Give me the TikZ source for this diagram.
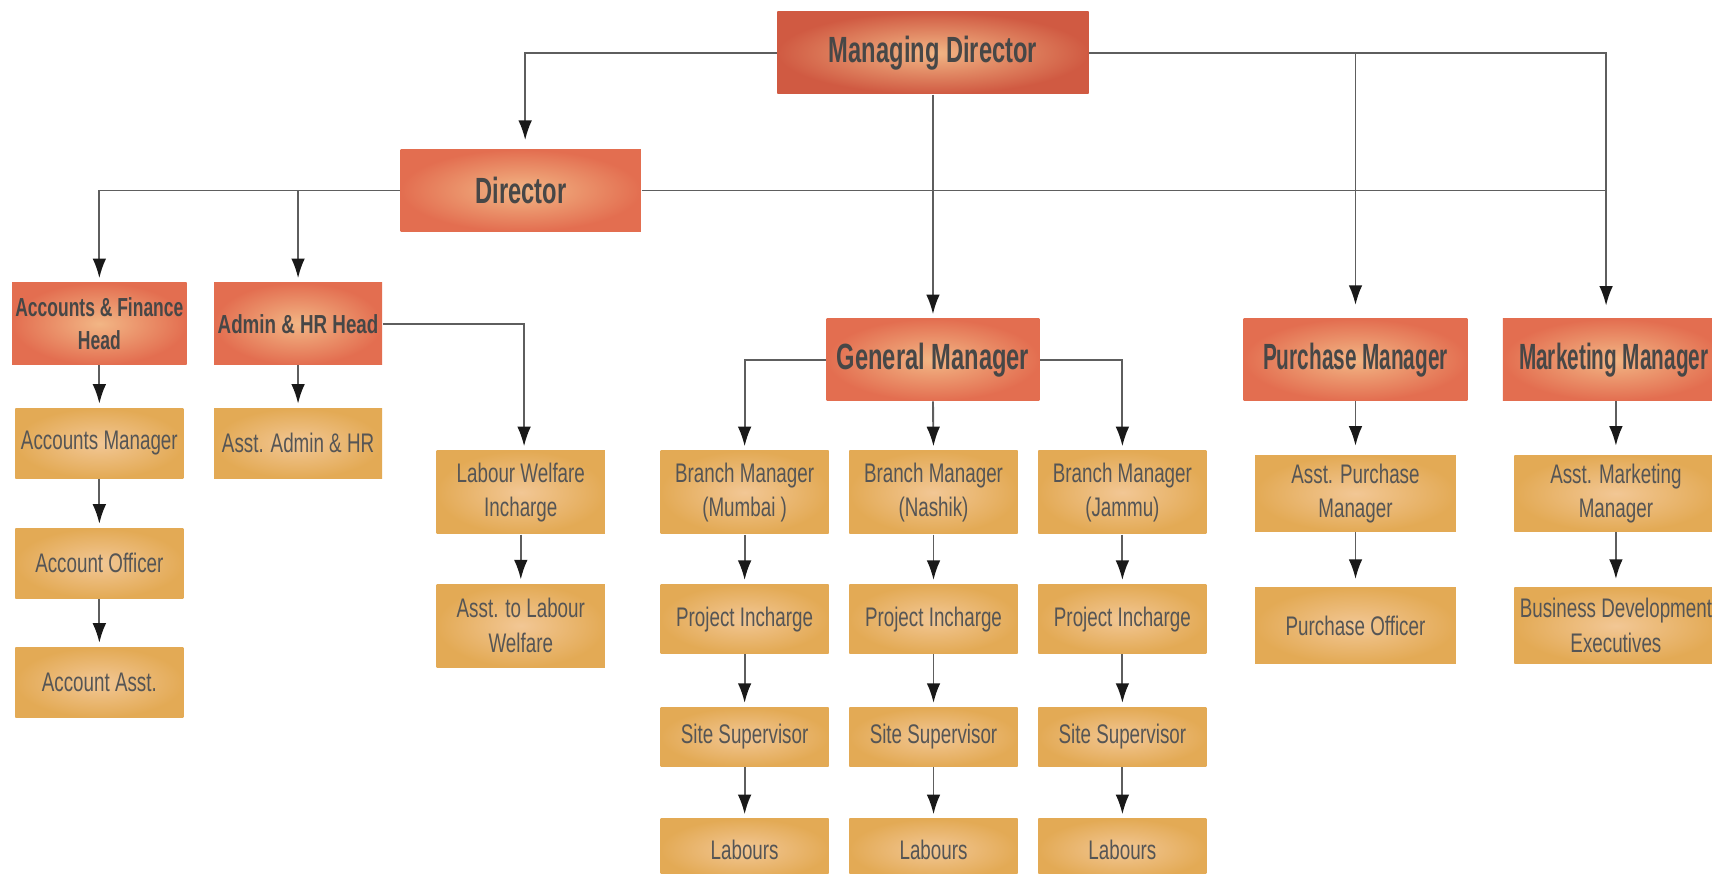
\documentclass[tikz,border=0pt]{standalone}
\usepackage{fontspec}
\usetikzlibrary{arrows.meta}
\newfontfamily\fnreg[FakeStretch=0.70]{Liberation Sans}
\newfontfamily\fnbig[FakeStretch=0.65]{Liberation Sans}
\newfontfamily\fnnar[FakeStretch=0.57]{Liberation Sans}
\newfontfamily\fnsml[FakeStretch=0.72]{Liberation Sans}
\newfontfamily\fnafh[FakeStretch=0.67]{Liberation Sans}
\definecolor{redin}{HTML}{F2B685}
\definecolor{redout}{HTML}{E36E50}
\definecolor{mdout}{HTML}{D05A42}
\definecolor{tanin}{HTML}{F2C795}
\definecolor{tanout}{HTML}{E3AA55}
\definecolor{txtb}{HTML}{474747}
\definecolor{txtr}{HTML}{555555}
\definecolor{linec}{HTML}{5E5E5E}
\tikzset{
  redbox/.style={inner sep=0pt, minimum height=7.5mm, inner color=redin, outer color=redout,
    text=txtb, align=center, font=\fnbig\bfseries\fontsize{9.5}{11}\selectfont},
  narred/.style={redbox, font=\fnnar\bfseries\fontsize{9.5}{11}\selectfont},
  smallred/.style={redbox, font=\fnsml\bfseries\fontsize{6.8}{8.7}\selectfont},
  afhred/.style={redbox, font=\fnafh\bfseries\fontsize{6.8}{8.7}\selectfont},
  tanbox/.style={inner sep=0pt, inner color=tanin, outer color=tanout,
    text=txtr, align=center, font=\fnreg\fontsize{7}{9}\selectfont},
  conn/.style={draw=linec, line width=0.5pt},
  arr/.style={conn, -{Latex[length=1.8mm,width=1.25mm,color=black!90]}, shorten >=0.35mm},
}
\begin{document}
\begin{tikzpicture}[x=0.1mm,y=-0.1mm]
\useasboundingbox (0,0) rectangle (1568,800);
\clip (0,0) rectangle (1568,800);
\fill[white] (0,0) rectangle (1568,800);

% top level
\node[redbox, outer color=mdout, minimum width=28.5mm] (MD) at (854.5,48.5) {Managing Director};
\node[redbox, minimum width=22mm] (DIR) at (477,174.5) {Director};
\node[afhred, minimum width=16mm] (AFH) at (91,296.5) {Accounts \& Finance\\Head};
\node[smallred, minimum width=15.4mm] (AHR) at (273,296.5) {Admin \& HR Head};
\node[redbox, minimum width=19.5mm] (GM) at (854.5,329.5) {General Manager};
\node[narred, minimum width=20.5mm] (PM) at (1241.5,329.5) {Purchase Manager};
\node[narred, minimum width=20.3mm] (MM) at (1478,329.5) {Marketing Manager};

% accounts column
\node[tanbox, minimum width=15.4mm, minimum height=6.4mm] (AM) at (91,406) {Accounts Manager};
\node[tanbox, minimum width=15.4mm, minimum height=6.4mm] (AO) at (91,516) {Account Officer};
\node[tanbox, minimum width=15.4mm, minimum height=6.4mm] (AA) at (91,625) {Account Asst.};
% admin column
\node[tanbox, minimum width=15.4mm, minimum height=6.4mm] (AAHR) at (273,406) {Asst. Admin \& HR};
\node[tanbox, minimum width=15.4mm, minimum height=7.6mm] (LWI) at (477,451) {Labour Welfare\\Incharge};
\node[tanbox, minimum width=15.4mm, minimum height=7.6mm] (ALW) at (477,573) {Asst. to Labour\\Welfare};

% branches
\node[tanbox, minimum width=15.4mm, minimum height=7.6mm] (BM1) at (682,451) {Branch Manager\\(Mumbai )};
\node[tanbox, minimum width=15.4mm, minimum height=7.6mm] (BM2) at (855,451) {Branch Manager\\(Nashik)};
\node[tanbox, minimum width=15.4mm, minimum height=7.6mm] (BM3) at (1028,451) {Branch Manager\\(Jammu)};
\node[tanbox, minimum width=15.4mm, minimum height=6.3mm] (PI1) at (682,567) {Project Incharge};
\node[tanbox, minimum width=15.4mm, minimum height=6.3mm] (PI2) at (855,567) {Project Incharge};
\node[tanbox, minimum width=15.4mm, minimum height=6.3mm] (PI3) at (1028,567) {Project Incharge};
\node[tanbox, minimum width=15.4mm, minimum height=5.4mm] (SS1) at (682,675) {Site Supervisor};
\node[tanbox, minimum width=15.4mm, minimum height=5.4mm] (SS2) at (855,675) {Site Supervisor};
\node[tanbox, minimum width=15.4mm, minimum height=5.4mm] (SS3) at (1028,675) {Site Supervisor};
\node[tanbox, minimum width=15.4mm, minimum height=5.6mm] (LB1) at (682,778) {Labours};
\node[tanbox, minimum width=15.4mm, minimum height=5.6mm] (LB2) at (855,778) {Labours};
\node[tanbox, minimum width=15.4mm, minimum height=5.6mm] (LB3) at (1028,778) {Labours};

% purchase & marketing
\node[tanbox, minimum width=18.4mm, minimum height=7mm] (APM) at (1241.5,452) {Asst. Purchase\\Manager};
\node[tanbox, minimum width=18.4mm, minimum height=7mm] (PO) at (1241.5,573) {Purchase Officer};
\node[tanbox, minimum width=18.6mm, minimum height=7mm] (AMM) at (1480,452) {Asst. Marketing\\Manager};
\node[tanbox, minimum width=18.6mm, minimum height=7mm] (BDE) at (1480,573) {Business Development\\Executives};

% helper coordinates
\coordinate (mmcol) at (1471,48.5);
\coordinate (mmin) at (1471,292);

% connectors from Managing Director
\draw[arr, shorten >=0.8mm] (MD.west) -| ([xshift=0.4mm]DIR.north);
\draw[arr, shorten >=1.2mm] (MD.east) -| (mmin);
\draw[arr, shorten >=1.2mm] (PM.north |- MD.east) -- (PM.north);
\draw[arr] (MD.south) -- (GM.north);
% Director
\draw[conn] (DIR.east) -- (DIR.east -| mmcol);
\draw[arr] (DIR.west) -| (AFH.north);
\draw[arr] (AHR.north |- DIR.west) -- (AHR.north);
% accounts
\draw[arr] (AFH.south) -- (AM.north);
\draw[arr] (AM.south) -- (AO.north);
\draw[arr] (AO.south) -- (AA.north);
% admin
\draw[arr] (AHR.south) -- (AAHR.north);
\draw[arr] (AHR.east) -| ([xshift=0.3mm]LWI.north);
\draw[arr] (LWI.south) -- (ALW.north);
% general manager
\draw[arr] (GM.west) -| (BM1.north);
\draw[arr] (GM.south) -- (BM2.north);
\draw[arr] (GM.east) -| (BM3.north);
\foreach \i in {1,2,3}{
  \draw[arr] (BM\i.south) -- (PI\i.north);
  \draw[arr] (PI\i.south) -- (SS\i.north);
  \draw[arr] (SS\i.south) -- (LB\i.north);
}
% purchase & marketing
\draw[arr, shorten >=0.8mm] (PM.south) -- (APM.north);
\draw[arr, shorten >=0.7mm] (APM.south) -- (PO.north);
\draw[arr, shorten >=0.8mm] (AMM.north |- MM.south) -- (AMM.north);
\draw[arr, shorten >=0.7mm] (AMM.south) -- (BDE.north);
\end{tikzpicture}
\end{document}
